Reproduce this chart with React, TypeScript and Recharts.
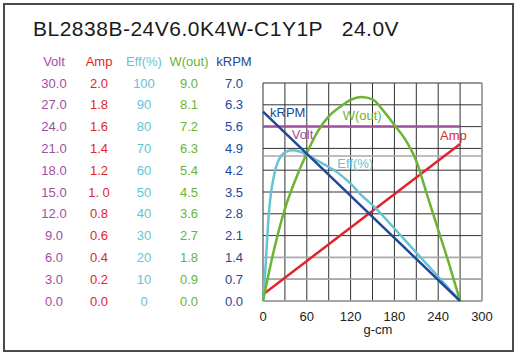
import React from "react"
import {
  LineChart,
  Line,
  XAxis,
  YAxis,
  CartesianGrid,
  ReferenceLine,
  ReferenceDot,
} from "recharts"

const title = "BL2838B-24V6.0K4W-C1Y1P   24.0V"

// left-hand scales (one column each)
const voltTicks = [0, 3, 6, 9, 12, 15, 18, 21, 24, 27, 30]
const voltLabels = ["0.0", "3.0", "6.0", "9.0", "12.0", "15.0", "18.0", "21.0", "24.0", "27.0", "30.0"]
const ampTicks = [0, 0.2, 0.4, 0.6, 0.8, 1, 1.2, 1.4, 1.6, 1.8, 2]
const ampLabels = ["0.0", "0.2", "0.4", "0.6", "0.8", "1. 0", "1.2", "1.4", "1.6", "1.8", "2.0"]
const effTicks = [0, 10, 20, 30, 40, 50, 60, 70, 80, 90, 100]
const effLabels = ["0", "10", "20", "30", "40", "50", "60", "70", "80", "90", "100"]
const wTicks = [0, 0.9, 1.8, 2.7, 3.6, 4.5, 5.4, 6.3, 7.2, 8.1, 9]
const wLabels = ["0.0", "0.9", "1.8", "2.7", "3.6", "4.5", "5.4", "6.3", "7.2", "8.1", "9.0"]
const rpmTicks = [0, 0.7, 1.4, 2.1, 2.8, 3.5, 4.2, 4.9, 5.6, 6.3, 7]
const rpmLabels = ["0.0", "0.7", "1.4", "2.1", "2.8", "3.5", "4.2", "4.9", "5.6", "6.3", "7.0"]

// torque axis, g-cm
const torqueTicks = [0, 30, 60, 90, 120, 150, 180, 210, 240, 270, 300]
const torqueShown = [0, 60, 120, 180, 240, 300]

// curves (g = g-cm)
const voltData = [
  { g: 0, v: 24 },
  { g: 270, v: 24 },
]
const ampData = [
  { g: 0, v: 0.06 },
  { g: 270, v: 1.44 },
]
const rpmData = [
  { g: 0, v: 6.08 },
  { g: 270, v: 0 },
]
const effData = [
  { g: 0, v: 0 },
  { g: 2.5, v: 10.5 },
  { g: 5, v: 24.5 },
  { g: 7.5, v: 38 },
  { g: 10, v: 47 },
  { g: 15, v: 57.5 },
  { g: 20, v: 63.5 },
  { g: 25, v: 66.6 },
  { g: 32, v: 68.5 },
  { g: 40, v: 69.1 },
  { g: 50, v: 68.6 },
  { g: 60, v: 67 },
  { g: 75, v: 64.3 },
  { g: 90, v: 61.5 },
  { g: 105, v: 58.2 },
  { g: 120, v: 53.8 },
  { g: 135, v: 48.5 },
  { g: 150, v: 44 },
  { g: 192, v: 28.8 },
  { g: 238, v: 11.9 },
  { g: 270, v: 0 },
]
const wData = [
  { g: 0, v: 0 },
  { g: 15, v: 2.1 },
  { g: 30, v: 3.8 },
  { g: 45, v: 5.05 },
  { g: 60, v: 6.1 },
  { g: 75, v: 7.0 },
  { g: 90, v: 7.62 },
  { g: 105, v: 8.0 },
  { g: 120, v: 8.3 },
  { g: 135, v: 8.42 },
  { g: 150, v: 8.32 },
  { g: 165, v: 7.85 },
  { g: 180, v: 7.27 },
  { g: 195, v: 6.66 },
  { g: 210, v: 5.78 },
  { g: 225, v: 4.36 },
  { g: 240, v: 2.94 },
  { g: 255, v: 1.52 },
  { g: 270, v: 0 },
]

const C = {
  volt: "#a04f9e",
  amp: "#e2232b",
  eff: "#66c3d4",
  w: "#6cb433",
  rpm: "#21499a",
  grid: "#333333",
  lightGrid: "#a9a9a9",
  text: "#222222",
}

const FONT = '"Liberation Sans", Arial, Helvetica, sans-serif'

const colTick = (ticks: number[], labels: string[], color: string) => (p: any) => {
  const i = ticks.findIndex((t) => Math.abs(t - p.payload.value) < 1e-6)
  return (
    <text x={p.x - 29} y={p.y} dy="0.36em" textAnchor="middle" fill={color} fontSize={13} fontFamily={FONT}>
      {labels[i]}
    </text>
  )
}

const colHead = (name: string, color: string) => (p: any) => {
  const vb = p.viewBox
  return (
    <text x={vb.x + vb.width - 29} y={vb.y - 17.5} textAnchor="middle" fill={color} fontSize={13} fontFamily={FONT}>
      {name}
    </text>
  )
}

const note = (name: string, color: string) => (p: any) => (
  <text x={p.viewBox.x} y={p.viewBox.y} fill={color} fontSize={13} fontFamily={FONT}>
    {name}
  </text>
)

// axis ids sort nearest-to-plot first
const ID = { rpm: "a_rpm", w: "b_w", eff: "c_eff", amp: "d_amp", volt: "e_volt" }

export default function App() {
  return (
    <div
      style={{
        position: "absolute",
        left: 0,
        top: 0,
        width: 516,
        height: 355,
        background: "#fff",
        fontFamily: FONT,
      }}
    >
      <div
        style={{
          position: "absolute",
          left: 3,
          top: 3,
          width: 511,
          height: 349,
          boxSizing: "border-box",
          border: "2px solid #4a4a4a",
        }}
      />
      <div
        style={{
          position: "absolute",
          left: 33,
          top: 18,
          fontSize: 21,
          lineHeight: "21px",
          letterSpacing: 0.5,
          whiteSpace: "pre",
          color: "#1a1a1a",
        }}
      >
        {title}
      </div>
      <div style={{ position: "absolute", left: 0, top: 0 }}>
        <LineChart width={516} height={355} margin={{ top: 83, right: 34, bottom: 14, left: 38 }}>
          <XAxis
            type="number"
            dataKey="g"
            domain={[0, 300]}
            ticks={torqueTicks}
            interval={0}
            tickSize={0}
            tickMargin={11}
            axisLine={false}
            tickLine={false}
            height={40}
            tick={(p: any) =>
              torqueShown.includes(p.payload.value) ? (
                <text x={p.x} y={p.y} dy="0.71em" textAnchor="middle" fill={C.text} fontSize={13} fontFamily={FONT}>
                  {p.payload.value}
                </text>
              ) : (
                <g />
              )
            }
            label={(p: any) => (
              <text
                x={p.viewBox.x + p.viewBox.width / 2 + 5.5}
                y={p.viewBox.y + 33}
                textAnchor="middle"
                fill={C.text}
                fontSize={13}
                fontFamily={FONT}
              >
                g-cm
              </text>
            )}
          />
          <YAxis
            yAxisId={ID.rpm}
            domain={[0, 7]}
            ticks={rpmTicks}
            interval={0}
            width={45}
            tickSize={0}
            tickMargin={0}
            axisLine={false}
            tickLine={false}
            tick={colTick(rpmTicks, rpmLabels, C.rpm)}
            label={colHead("kRPM", C.rpm)}
          />
          <YAxis
            yAxisId={ID.w}
            domain={[0, 9]}
            ticks={wTicks}
            interval={0}
            width={45}
            tickSize={0}
            tickMargin={0}
            axisLine={false}
            tickLine={false}
            tick={colTick(wTicks, wLabels, C.w)}
            label={colHead("W(out)", C.w)}
          />
          <YAxis
            yAxisId={ID.eff}
            domain={[0, 100]}
            ticks={effTicks}
            interval={0}
            width={45}
            tickSize={0}
            tickMargin={0}
            axisLine={false}
            tickLine={false}
            tick={colTick(effTicks, effLabels, C.eff)}
            label={colHead("Eff(%)", C.eff)}
          />
          <YAxis
            yAxisId={ID.amp}
            domain={[0, 2]}
            ticks={ampTicks}
            interval={0}
            width={45}
            tickSize={0}
            tickMargin={0}
            axisLine={false}
            tickLine={false}
            tick={colTick(ampTicks, ampLabels, C.amp)}
            label={colHead("Amp", C.amp)}
          />
          <YAxis
            yAxisId={ID.volt}
            domain={[0, 30]}
            ticks={voltTicks}
            interval={0}
            width={45}
            tickSize={0}
            tickMargin={0}
            axisLine={false}
            tickLine={false}
            tick={colTick(voltTicks, voltLabels, C.volt)}
            label={colHead("Volt", C.volt)}
          />
          <CartesianGrid yAxisId={ID.volt} stroke={C.grid} strokeWidth={1} />
          <ReferenceLine yAxisId={ID.volt} y={0} stroke={C.lightGrid} strokeWidth={1.5} />
          <ReferenceLine yAxisId={ID.volt} y={3} stroke={C.lightGrid} strokeWidth={1.5} />
          <ReferenceLine yAxisId={ID.volt} y={6} stroke={C.lightGrid} strokeWidth={1.5} />
          <ReferenceLine yAxisId={ID.volt} y={19.95} stroke={C.lightGrid} strokeWidth={1.5} />
          <ReferenceLine yAxisId={ID.volt} x={300} stroke={C.lightGrid} strokeWidth={1.5} />

          <Line yAxisId={ID.volt} data={voltData} dataKey="v" type="linear" stroke={C.volt} strokeWidth={2.5} dot={false} isAnimationActive={false} />
          <Line yAxisId={ID.amp} data={ampData} dataKey="v" type="linear" stroke={C.amp} strokeWidth={2.5} dot={false} isAnimationActive={false} />
          <Line yAxisId={ID.eff} data={effData} dataKey="v" type="monotone" stroke={C.eff} strokeWidth={2.5} dot={false} isAnimationActive={false} />
          <Line yAxisId={ID.w} data={wData} dataKey="v" type="monotone" stroke={C.w} strokeWidth={2.5} dot={false} isAnimationActive={false} />
          <Line yAxisId={ID.rpm} data={rpmData} dataKey="v" type="linear" stroke={C.rpm} strokeWidth={2.5} dot={false} isAnimationActive={false} />

          <ReferenceDot yAxisId={ID.volt} x={9.6} y={25.3} r={0} ifOverflow="visible" label={note("kRPM", C.rpm)} />
          <ReferenceDot yAxisId={ID.volt} x={39.3} y={22.3} r={0} ifOverflow="visible" label={note("Volt", C.volt)} />
          <ReferenceDot yAxisId={ID.volt} x={109.2} y={24.9} r={0} ifOverflow="visible" label={note("W(out)", C.w)} />
          <ReferenceDot yAxisId={ID.volt} x={101.8} y={18.3} r={0} ifOverflow="visible" label={note("Eff(%)", C.eff)} />
          <ReferenceDot yAxisId={ID.volt} x={242.5} y={22.1} r={0} ifOverflow="visible" label={note("Amp", C.amp)} />
        </LineChart>
      </div>
    </div>
  )
}
